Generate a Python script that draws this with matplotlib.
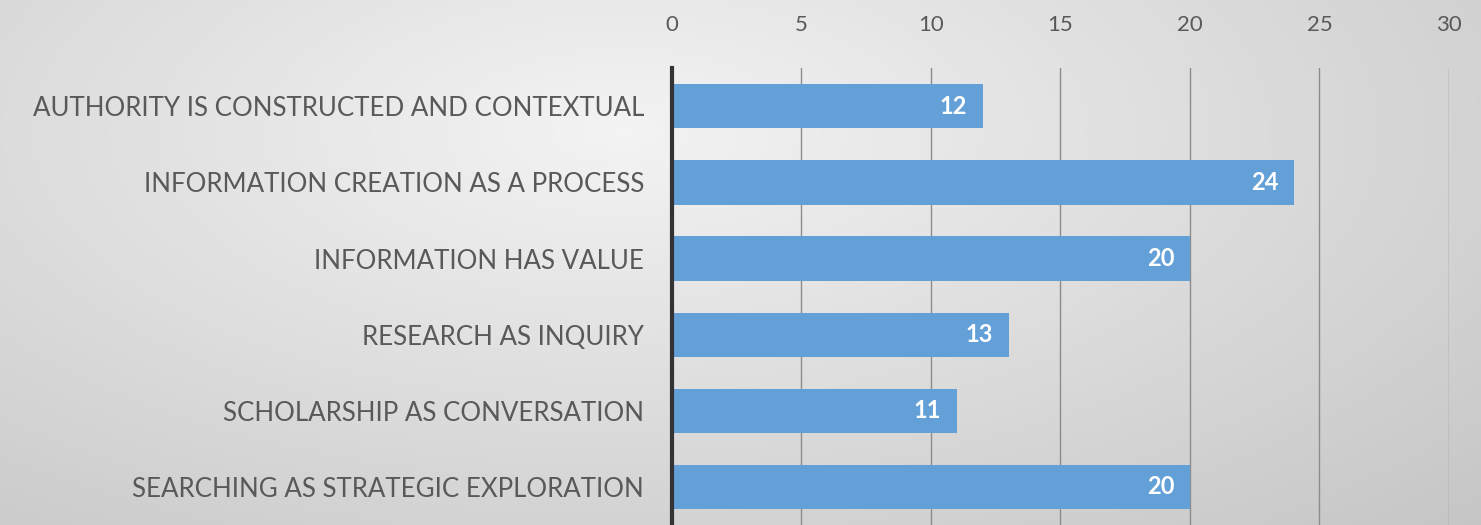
import numpy as np
import matplotlib.pyplot as plt

categories = [
    'AUTHORITY IS CONSTRUCTED AND CONTEXTUAL',
    'INFORMATION CREATION AS A PROCESS',
    'INFORMATION HAS VALUE',
    'RESEARCH AS INQUIRY',
    'SCHOLARSHIP AS CONVERSATION',
    'SEARCHING AS STRATEGIC EXPLORATION',
]
values = [12, 24, 20, 13, 11, 20]
x_ticks = [0, 5, 10, 15, 20, 25, 30]

plt.rcParams['font.family'] = ['Lato', 'DejaVu Sans']

fig = plt.figure(figsize=(14.81, 5.25), dpi=100)

# soft grey gradient background, lighter toward the middle-left
bg = fig.add_axes([0, 0, 1, 1], zorder=-10)
yy, xx = np.mgrid[0:1:200j, 0:1:400j]
r = np.sqrt(((xx - 0.42) / 1.0) ** 2 + ((yy - 0.25) / 1.3) ** 2)
g = np.clip(0.955 - 0.22 * r, 0, 1)
img = np.dstack([g, g, g])
bg.imshow(img, aspect='auto', extent=[0, 1, 0, 1], interpolation='bilinear')
bg.axis('off')

ax = fig.add_axes([0.4537, 0.0, 0.5247, 0.870])
ax.patch.set_alpha(0)

y = np.arange(len(categories))
bars = ax.barh(y, values, height=0.58, color='#64a0d8', zorder=3)
for b, v in zip(bars, values):
    ax.text(v - 0.6, b.get_y() + b.get_height() / 2, str(v), ha='right', va='center',
            color='white', fontsize=17, fontweight='bold', zorder=4)

ax.set_xlim(0, 30)
ax.set_ylim(len(categories) - 0.5, -0.5)
ax.set_xticks(x_ticks)
ax.xaxis.tick_top()
ax.tick_params(axis='x', length=0, pad=24, labelsize=16, labelcolor='#595959')
ax.set_yticks(y)
ax.set_yticklabels(categories)
ax.tick_params(axis='y', length=0, pad=20, labelsize=18.6, labelcolor='#595959')
ax.grid(axis='x', color='#8c8c8c', linewidth=1, zorder=0)
for s in ['top', 'right', 'bottom']:
    ax.spines[s].set_visible(False)
ax.spines['left'].set_color('#333333')
ax.spines['left'].set_linewidth(3)
ax.spines['left'].set_zorder(5)

fig.savefig('out.png', dpi=100)
